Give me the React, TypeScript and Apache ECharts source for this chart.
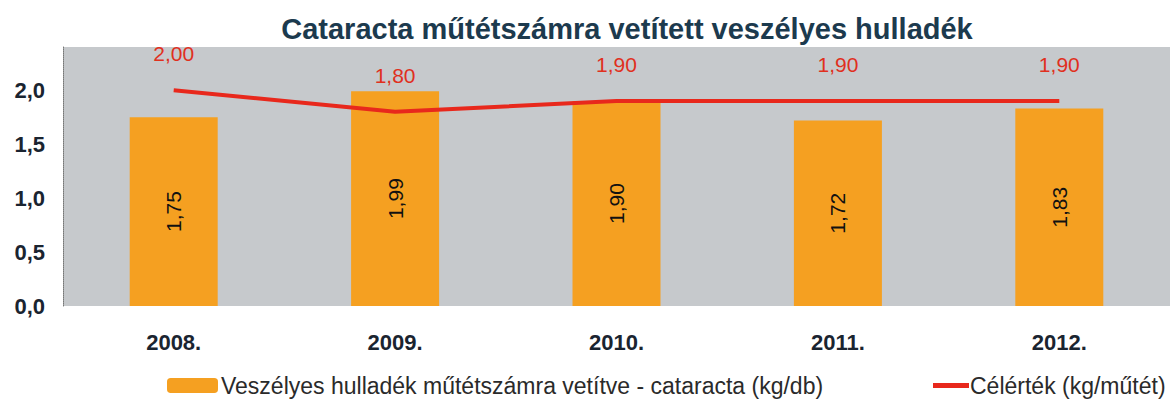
import React, { useEffect, useRef } from "react";
import * as echarts from "echarts";

const categories = ["2008.", "2009.", "2010.", "2011.", "2012."];
const wasteValues = [1.75, 1.99, 1.9, 1.72, 1.83];
const targetValues = [2.0, 1.8, 1.9, 1.9, 1.9];
const yTicks = [0, 0.5, 1.0, 1.5, 2.0];

const TITLE = "Cataracta műtétszámra vetített veszélyes hulladék";
const BAR_NAME = "Veszélyes hulladék műtétszámra vetítve - cataracta (kg/db)";
const LINE_NAME = "Célérték (kg/műtét)";

const FONT = "Liberation Sans, Arial, sans-serif";
const comma = (v: number, d: number) => v.toFixed(d).replace(".", ",");

export default function App() {
  const ref = useRef<HTMLDivElement>(null);
  useEffect(() => {
    if (!ref.current) return;
    const chart = echarts.init(ref.current, undefined, { renderer: "svg" });
    chart.setOption({
      animation: false,
      backgroundColor: "#ffffff",
      title: {
        text: TITLE,
        left: 622,
        textAlign: "center",
        top: 9,
        textStyle: {
          fontFamily: FONT,
          fontSize: 29,
          fontWeight: "bold",
          color: "#1c3a4e",
        },
      },
      legend: [
        {
          data: [BAR_NAME],
          left: 162,
          top: 369,
          itemWidth: 51,
          itemHeight: 15,
          textStyle: {
            fontFamily: FONT,
            fontSize: 23,
            color: "#2a2a2a",
            padding: [0, 0, 0, -2],
          },
        },
        {
          data: [{ name: LINE_NAME, icon: "rect" }],
          left: 928,
          top: 369,
          itemWidth: 36,
          itemHeight: 5,
          textStyle: {
            fontFamily: FONT,
            fontSize: 23,
            color: "#2a2a2a",
            padding: [0, 0, 0, -4],
          },
        },
      ],
      grid: {
        left: 63,
        width: 1112,
        top: 47,
        bottom: 95,
        show: true,
        backgroundColor: "#c6c9cc",
        borderWidth: 0,
      },
      xAxis: {
        type: "category",
        data: categories,
        axisLine: { show: false },
        axisTick: { show: false },
        axisLabel: {
          margin: 25,
          fontFamily: FONT,
          fontSize: 22,
          fontWeight: "bold",
          color: "#1a2430",
        },
      },
      yAxis: {
        type: "value",
        min: 0,
        max: 2.4,
        interval: 0.5,
        splitLine: { show: false },
        axisTick: { show: false },
        axisLine: {
          show: true,
          lineStyle: { color: "#777", type: "dotted", width: 1 },
        },
        axisLabel: {
          margin: 18,
          showMaxLabel: false,
          fontFamily: FONT,
          fontSize: 22,
          fontWeight: "bold",
          color: "#1a2430",
          formatter: (v: number) => (yTicks.includes(v) ? comma(v, 1) : ""),
        },
      },
      series: [
        {
          name: BAR_NAME,
          type: "bar",
          data: wasteValues,
          barWidth: 88,
          itemStyle: { color: "#f5a021" },
          label: {
            show: true,
            position: "inside",
            rotate: 90,
            fontFamily: FONT,
            fontSize: 21,
            color: "#111",
            formatter: (p: any) => comma(p.value, 2),
          },
        },
        {
          name: LINE_NAME,
          type: "line",
          data: targetValues,
          symbol: "circle",
          symbolSize: 0,
          showSymbol: true,
          lineStyle: { color: "#e8281c", width: 4 },
          itemStyle: { color: "#e8281c" },
          label: {
            show: true,
            position: "top",
            distance: 26,
            fontFamily: FONT,
            fontSize: 21,
            color: "#e0301e",
            formatter: (p: any) => comma(p.value, 2),
          },
        },
      ],
    });
    return () => chart.dispose();
  }, []);
  return <div ref={ref} style={{ width: 1170, height: 401, position: "absolute", left: 0, top: 0 }} />;
}
